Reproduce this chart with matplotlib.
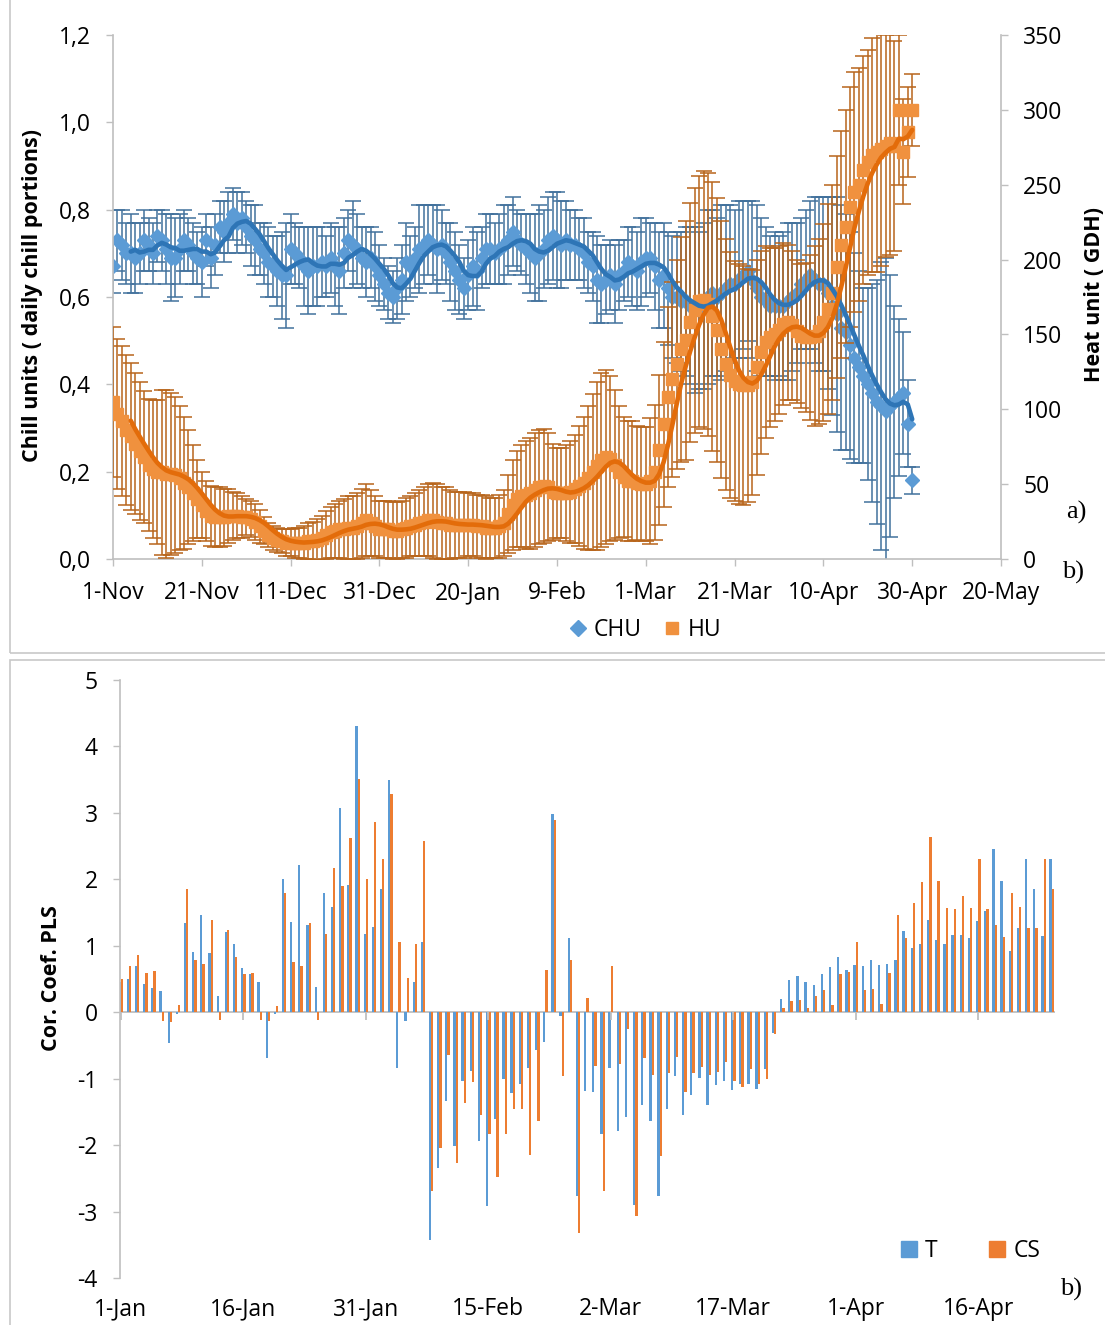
import numpy as np
import pandas as pd
import matplotlib
matplotlib.use("Agg")
import matplotlib.pyplot as plt
from matplotlib.lines import Line2D
from matplotlib.patches import Rectangle

plt.rcParams['font.family'] = ['Open Sans', 'DejaVu Sans']
plt.rcParams['axes.unicode_minus'] = False

# ---- panel a) daily values, 1-Nov .. 30-Apr
chu = [0.67, 0.73, 0.72, 0.70, 0.70, 0.69, 0.70, 0.73, 0.72, 0.70,
       0.74, 0.73, 0.71, 0.69, 0.69, 0.71, 0.73, 0.72, 0.70, 0.69,
       0.68, 0.73, 0.69, 0.72, 0.76, 0.75, 0.77, 0.79, 0.77, 0.78,
       0.76, 0.74, 0.73, 0.71, 0.70, 0.68, 0.67, 0.66, 0.65, 0.65,
       0.71, 0.70, 0.69, 0.67, 0.66, 0.67, 0.67, 0.68, 0.67, 0.69,
       0.67, 0.66, 0.70, 0.73, 0.72, 0.71, 0.69, 0.68, 0.69, 0.67,
       0.65, 0.63, 0.61, 0.60, 0.62, 0.64, 0.68, 0.67, 0.69, 0.71,
       0.72, 0.73, 0.72, 0.71, 0.72, 0.70, 0.68, 0.66, 0.64, 0.62,
       0.65, 0.67, 0.66, 0.69, 0.71, 0.71, 0.70, 0.71, 0.72, 0.73,
       0.75, 0.73, 0.72, 0.71, 0.70, 0.69, 0.70, 0.71, 0.73, 0.74,
       0.73, 0.72, 0.73, 0.72, 0.72, 0.71, 0.70, 0.68, 0.67, 0.64,
       0.63, 0.64, 0.65, 0.63, 0.65, 0.66, 0.68, 0.67, 0.66, 0.68,
       0.69, 0.69, 0.67, 0.64, 0.65, 0.62, 0.60, 0.60, 0.59, 0.59,
       0.58, 0.57, 0.57, 0.58, 0.60, 0.61, 0.60, 0.61, 0.62, 0.63,
       0.63, 0.64, 0.65, 0.66, 0.64, 0.62, 0.60, 0.59, 0.58, 0.58,
       0.58, 0.58, 0.59, 0.60, 0.61, 0.63, 0.64, 0.65, 0.64, 0.63,
       0.63, 0.61, 0.58, 0.56, 0.53, 0.52, 0.49, 0.46, 0.44, 0.42,
       0.40, 0.38, 0.36, 0.35, 0.34, 0.35, 0.36, 0.37, 0.38, 0.31,
       0.18]
chu_err = [0.06, 0.07, 0.08, 0.07, 0.09, 0.08, 0.07, 0.07, 0.06, 0.07,
           0.06, 0.07, 0.08, 0.10, 0.09, 0.08, 0.07, 0.06, 0.07, 0.06,
           0.08, 0.06, 0.07, 0.07, 0.06, 0.07, 0.07, 0.06, 0.07, 0.06,
           0.06, 0.07, 0.08, 0.06, 0.07, 0.08, 0.07, 0.08, 0.10, 0.12,
           0.08, 0.07, 0.07, 0.09, 0.10, 0.09, 0.09, 0.08, 0.07, 0.08,
           0.09, 0.10, 0.08, 0.07, 0.10, 0.08, 0.07, 0.08, 0.07, 0.08,
           0.07, 0.06, 0.06, 0.06, 0.07, 0.08, 0.09, 0.07, 0.07, 0.10,
           0.09, 0.08, 0.09, 0.10, 0.08, 0.07, 0.09, 0.09, 0.08, 0.07,
           0.08, 0.09, 0.09, 0.07, 0.08, 0.08, 0.07, 0.08, 0.09, 0.08,
           0.08, 0.07, 0.07, 0.08, 0.09, 0.10, 0.11, 0.09, 0.10, 0.10,
           0.11, 0.10, 0.09, 0.08, 0.08, 0.07, 0.08, 0.07, 0.08, 0.10,
           0.09, 0.08, 0.08, 0.09, 0.08, 0.07, 0.08, 0.09, 0.09, 0.10,
           0.09, 0.08, 0.10, 0.11, 0.12, 0.13, 0.14, 0.15, 0.16, 0.17,
           0.18, 0.19, 0.18, 0.19, 0.20, 0.19, 0.18, 0.20, 0.19, 0.18,
           0.17, 0.18, 0.17, 0.16, 0.18, 0.19, 0.18, 0.17, 0.16, 0.17,
           0.16, 0.17, 0.18, 0.17, 0.16, 0.15, 0.16, 0.17, 0.19, 0.20,
           0.20, 0.22, 0.25, 0.27, 0.28, 0.27, 0.26, 0.24, 0.22, 0.20,
           0.22, 0.25, 0.28, 0.33, 0.35, 0.30, 0.22, 0.18, 0.14, 0.10,
           0.03]
hu = [105, 97, 92, 86, 82, 77, 72, 68, 63, 60,
      58, 58, 57, 57, 56, 54, 51, 48, 44, 40,
      36, 32, 29, 28, 28, 28, 29, 29, 29, 28,
      28, 27, 25, 22, 19, 16, 14, 13, 12, 11,
      11, 11, 11, 11, 12, 12, 13, 14, 16, 18,
      19, 20, 20, 21, 21, 22, 24, 26, 24, 22,
      20, 20, 20, 19, 19, 20, 21, 22, 23, 24,
      25, 26, 26, 25, 24, 24, 23, 23, 23, 23,
      23, 23, 22, 22, 21, 21, 21, 22, 24, 30,
      36, 40, 42, 43, 44, 46, 48, 49, 48, 45,
      44, 44, 44, 45, 47, 49, 51, 54, 58, 62,
      66, 68, 67, 63, 58, 55, 52, 52, 51, 50,
      50, 52, 58, 73, 90, 108, 120, 130, 140, 146,
      158, 166, 172, 173, 170, 162, 153, 140, 130, 123,
      119, 117, 116, 116, 118, 128, 138, 145, 148, 150,
      153, 157, 158, 156, 152, 149, 148, 148, 149, 152,
      158, 167, 178, 195, 210, 222, 235, 245, 250, 260,
      265, 270, 272, 274, 276, 278, 276, 300, 272, 285,
      300]
hu_err = [50, 50, 50, 50, 49, 47, 46, 44, 44, 46,
          48, 55, 56, 54, 52, 48, 44, 38, 32, 26,
          22, 20, 20, 20, 20, 19, 18, 16, 15, 14,
          12, 12, 12, 11, 9, 8, 8, 8, 8, 9,
          9, 10, 10, 11, 12, 13, 14, 15, 16, 17,
          18, 19, 20, 21, 21, 22, 23, 24, 22, 20,
          19, 19, 19, 19, 19, 19, 20, 20, 21, 22,
          23, 24, 25, 25, 24, 24, 23, 22, 22, 22,
          21, 21, 21, 21, 21, 20, 20, 21, 22, 26,
          30, 32, 34, 36, 37, 38, 38, 38, 36, 32,
          30, 30, 32, 34, 36, 40, 44, 48, 52, 56,
          58, 58, 55, 50, 44, 40, 40, 40, 38, 38,
          38, 42, 45, 50, 55, 60, 65, 70, 75, 80,
          80, 82, 84, 86, 88, 90, 88, 86, 84, 82,
          80, 80, 80, 78, 75, 72, 68, 64, 60, 58,
          56, 54, 52, 50, 48, 48, 50, 55, 60, 62,
          66, 70, 72, 74, 76, 78, 80, 80, 78, 76,
          75, 78, 80, 78, 74, 75, 70, 50, 35, 30,
          24]
top_ticks = ['1-Nov', '21-Nov', '11-Dec', '31-Dec', '20-Jan', '9-Feb',
             '1-Mar', '21-Mar', '10-Apr', '30-Apr', '20-May']

# ---- panel b) daily PLS coefficients, 1-Jan .. 25-Apr
t_coef = [0.45, 0.50, 0.69, 0.43, 0.37, 0.32, -0.46, -0.03, 1.34, 0.91,
          1.46, 0.89, 0.25, 1.20, 1.02, 0.66, 0.57, 0.46, -0.69, -0.03,
          2.01, 1.36, 2.21, 1.32, 0.38, 1.80, 1.59, 3.08, 1.92, 4.31,
          1.18, 1.29, 1.86, 3.50, -0.84, -0.13, 0.46, 1.05, -3.43, -2.34,
          -1.34, -2.01, -1.03, -0.89, -1.94, -2.92, -1.61, -1.00, -1.22, -1.08,
          -0.84, -0.57, -0.45, 2.98, -0.06, 1.11, -2.76, -1.19, -1.20, -1.83,
          -0.84, -1.79, -1.57, -2.90, -1.39, -1.64, -2.76, -1.45, -0.96, -1.54,
          -1.24, -0.99, -1.39, -1.09, -1.04, -1.17, -1.08, -1.08, -1.16, -0.86,
          -0.31, 0.20, 0.48, 0.55, 0.45, 0.41, 0.57, 0.68, 0.83, 0.64,
          0.71, 0.69, 0.78, 0.71, 0.73, 0.78, 1.22, 0.96, 1.02, 1.39,
          1.08, 1.02, 1.16, 1.16, 1.12, 1.37, 1.53, 2.46, 1.97, 0.92,
          1.27, 2.31, 1.85, 1.14, 2.31]
cs_coef = [0.50, 0.70, 0.86, 0.59, 0.62, -0.13, -0.14, 0.11, 1.85, 0.78,
           0.73, 1.39, -0.11, 1.24, 0.83, 0.57, 0.59, -0.11, -0.13, 0.10,
           1.79, 0.75, 0.70, 1.34, -0.11, 1.18, 2.17, 1.90, 2.62, 3.51,
           2.00, 2.87, 2.31, 3.29, 1.06, 0.51, 1.03, 2.57, -2.69, -2.05,
           -0.64, -2.27, -1.37, -1.05, -1.55, -1.83, -2.48, -1.84, -1.46, -1.45,
           -2.15, -1.64, 0.64, 2.89, -0.96, 0.78, -3.32, 0.22, -0.81, -2.69,
           0.70, -0.78, -0.25, -3.06, -0.69, -0.94, -2.17, -0.92, -0.68, -1.20,
           -0.91, -0.83, -0.94, -0.90, -0.75, -1.04, -1.13, -0.85, -1.08, -1.01,
           -0.33, 0.06, 0.17, 0.19, 0.06, 0.25, 0.34, 0.11, 0.57, 0.61,
           1.05, 0.33, 0.35, 0.13, 0.59, 1.46, 1.12, 1.65, 1.96, 2.64,
           1.97, 1.57, 1.55, 1.75, 1.57, 2.30, 1.55, 1.31, 1.13, 1.80,
           1.59, 1.27, 1.27, 2.31, 1.85]
bottom_ticks = ['1-Jan', '16-Jan', '31-Jan', '15-Feb', '2-Mar', '17-Mar',
                '1-Apr', '16-Apr']

W, H = 1105, 1325
fig = plt.figure(figsize=(W / 100, H / 100), dpi=100)


def fx(px):
    return px / W


def fy(py):
    return 1 - py / H


gray = '#BFBFBF'
blue_mk, blue_ln, blue_err = '#5B9BD5', '#2E75B6', '#41719C'
orng_mk, orng_ln, orng_err = '#F0913E', '#E36C0A', '#B8651B'

# panel frames
fig.add_artist(Rectangle((fx(10), fy(653)), 1.0, 1.0, transform=fig.transFigure,
                         fill=False, ec='#C8C8C8', lw=1.2))
fig.add_artist(Rectangle((fx(10), fy(660) - 1.0), 1.0, 1.0, transform=fig.transFigure,
                         fill=False, ec='#C8C8C8', lw=1.2))

# ================= panel a
ax = fig.add_axes([fx(113), fy(559), fx(1001) - fx(113), fy(35) - fy(559)])
ax2 = ax.twinx()
days = np.arange(len(chu))

ax.errorbar(days, chu, yerr=chu_err, fmt='none', ecolor=blue_err,
            elinewidth=1.1, capsize=6, capthick=1.1)
ax.plot(days, chu, 'D', color=blue_mk, ms=7.5, mec=blue_mk)
ax2.errorbar(days, hu, yerr=hu_err, fmt='none', ecolor=orng_err,
             elinewidth=1.1, capsize=6, capthick=1.1)
ax2.plot(days, hu, 's', color=orng_mk, ms=8, mec=orng_mk)

# 5-day moving-average trend lines
chu_ma = pd.Series(chu).rolling(5).mean()
hu_ma = pd.Series(hu).rolling(5).mean()
ax2.plot(days, chu_ma, color=blue_ln, lw=3.3, transform=ax.transData,
         solid_capstyle='round')
ax2.plot(days, hu_ma, color=orng_ln, lw=3.3, solid_capstyle='round')

ax.set_xlim(0, 200)
ax.set_ylim(0, 1.2)
ax2.set_ylim(0, 350)
ax.set_xticks(np.arange(0, 201, 20))
ax.set_xticklabels(top_ticks)
yt = np.arange(0, 1.21, 0.2)
ax.set_yticks(yt)
ax.set_yticklabels([f'{v:.1f}'.replace('.', ',') for v in yt])
ax2.set_yticks(np.arange(0, 351, 50))

for a in (ax, ax2):
    for s in a.spines.values():
        s.set_visible(False)
    a.tick_params(direction='out', length=5, width=1, color=gray,
                  labelsize=16.5, pad=11)
ax.spines['left'].set_visible(True)
ax.spines['bottom'].set_visible(True)
ax2.spines['right'].set_visible(True)
for s in (ax.spines['left'], ax.spines['bottom'], ax2.spines['right']):
    s.set_color(gray)
    s.set_linewidth(1.2)

fig.text(fx(33), fy(295), 'Chill units ( daily chill portions)', rotation=90,
         ha='center', va='center', fontsize=15.5, fontweight='bold')
fig.text(fx(1094), fy(295), 'Heat unit ( GDH)', rotation=90,
         ha='center', va='center', fontsize=15.5, fontweight='bold')

leg_a = [Line2D([], [], ls='none', marker='D', color=blue_mk, ms=8),
         Line2D([], [], ls='none', marker='s', color=orng_mk, ms=9)]
fig.legend(leg_a, ['CHU', 'HU'], loc='center', bbox_to_anchor=(fx(645), fy(630)),
           ncol=2, frameon=False, fontsize=16.5, handlelength=0.8,
           handletextpad=0.3, columnspacing=0.9)

fig.text(fx(1076), fy(512), 'a)', family='Liberation Serif', fontsize=19,
         ha='center', va='center')
fig.text(fx(1073), fy(572), 'b)', family='Liberation Serif', fontsize=19,
         ha='center', va='center')

# ================= panel b
bx = fig.add_axes([fx(120), fy(1278), fx(1055) - fx(120), fy(680) - fy(1278)])
d2 = np.arange(len(t_coef))
bx.bar(d2 - 0.14, t_coef, width=0.28, color=blue_mk, lw=0)
bx.bar(d2 + 0.14, cs_coef, width=0.28, color='#ED7D31', lw=0)
bx.axhline(0, color=gray, lw=1.3, zorder=0.5)
tick_days = np.arange(0, 106, 15)
bx.vlines(tick_days, -0.12, 0, color=gray, lw=1.3)

bx.set_xlim(-0.1, 114.4)
bx.set_ylim(-4, 5)
bx.set_yticks(np.arange(-4, 6, 1))
bx.set_xticks(tick_days)
bx.set_xticklabels(bottom_ticks)
for s in bx.spines.values():
    s.set_visible(False)
bx.spines['left'].set_visible(True)
bx.spines['left'].set_color(gray)
bx.spines['left'].set_linewidth(1.2)
bx.tick_params(axis='y', direction='out', length=5, width=1, color=gray,
               labelsize=16.5, pad=11)
bx.tick_params(axis='x', length=0, labelsize=16.5, pad=14)

fig.text(fx(52), fy(978), 'Cor. Coef. PLS', rotation=90, ha='center',
         va='center', fontsize=15.5, fontweight='bold')

leg_b = [Line2D([], [], ls='none', marker='s', color=blue_mk, ms=11),
         Line2D([], [], ls='none', marker='s', color='#ED7D31', ms=11)]
fig.legend(leg_b, ['T', 'CS'], loc='center', bbox_to_anchor=(fx(970), fy(1251)),
           ncol=2, frameon=False, fontsize=16.5, handlelength=0.8,
           handletextpad=0.3, columnspacing=2.2)

fig.text(fx(1071), fy(1289), 'b)', family='Liberation Serif', fontsize=19,
         ha='center', va='center')

fig.savefig('out.png', dpi=100)
